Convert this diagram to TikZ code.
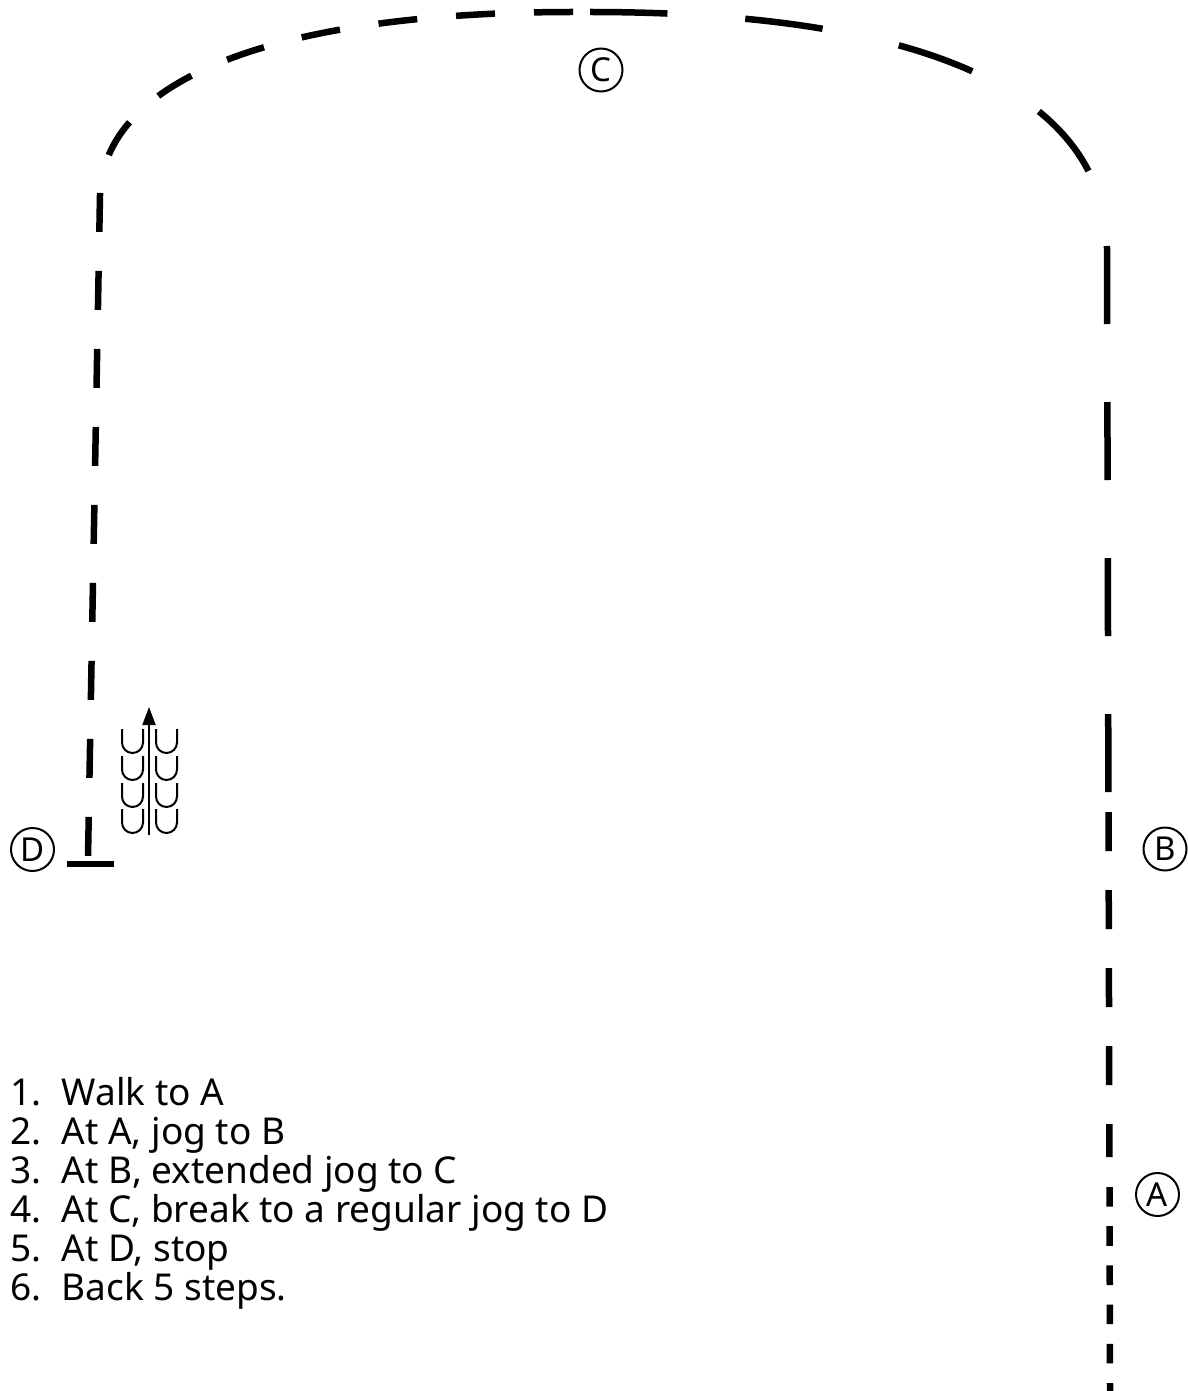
\documentclass[tikz,border=0pt]{standalone}
\usepackage{fontspec}
\setmainfont{Noto Sans}
\usetikzlibrary{arrows.meta}
\begin{document}
\begin{tikzpicture}[x=1pt,y=-1pt,
  track/.style={line width=6.5pt},
  walkgait/.style={track,dash pattern=on 19.6pt off 19.6pt},
  joggait/.style={track,dash pattern=on 39pt off 39pt},
  extgait/.style={track,dash pattern=on 78pt off 78pt},
  marker/.style={circle,draw,line width=2pt,minimum size=43pt,inner sep=0pt,font=\fontsize{33}{33}\selectfont},
  stepline/.style={anchor=base west,inner sep=0pt,font=\fontsize{37}{39}\selectfont},
  shoe/.style={line width=2pt},
]
\useasboundingbox (0,0) rectangle (1187,1391);

% track segments
\coordinate (start) at (1110,1391);
\coordinate (atA) at (1109.5,1187);
\coordinate (jogS) at (1109.4,1157);
\coordinate (jogE) at (1108.5,812);
\coordinate (atB) at (1108.4,792);
\coordinate (cornerR) at (1107,250);
\coordinate (atC) at (590,12);
\coordinate (jogC) at (573,12);
\coordinate (cornerL) at (100,195);
\coordinate (atD) at (88,858);
\coordinate (barL) at (67,864);
\coordinate (barR) at (114,864);

\draw[walkgait] (atA) -- (start);
\draw[joggait] (jogE) -- (jogS);
\draw[extgait] (atB) -- (cornerR) .. controls (1107,110) and (960,12) .. (atC);
\draw[joggait] (jogC) .. controls (273,12) and (104,80) .. (cornerL) -- (atD);
\draw[track] (barL) -- (barR);

% markers
\node[marker] (A) at (1157.5,1194.5) {A};
\node[marker] (B) at (1165,849) {B};
\node[marker] (C) at (601,70) {C};
\node[marker] (D) at (32.5,849.5) {D};

% hoof prints
\foreach \cx in {132.5,166.5}{
  \foreach \yt in {729,756,783,809}{
    \draw[shoe] (\cx-10.5,\yt) -- (\cx-10.5,\yt+13.5) arc[start angle=180,end angle=0,radius=10.5] -- (\cx+10.5,\yt);
  }
}
\coordinate (arrS) at (149,835);
\coordinate (arrE) at (149,707);
\draw[line width=2pt,-{Triangle[width=13pt,length=18pt]}] (arrS) -- (arrE);

% instructions
\node[stepline] (s1) at (10,1105) {\makebox[51.5pt][l]{1.}Walk to A};
\node[stepline] (s2) at (10,1144) {\makebox[51.5pt][l]{2.}At A, jog to B};
\node[stepline] (s3) at (10,1183) {\makebox[51.5pt][l]{3.}At B, extended jog to C};
\node[stepline] (s4) at (10,1222) {\makebox[51.5pt][l]{4.}At C, break to a regular jog to D};
\node[stepline] (s5) at (10,1261) {\makebox[51.5pt][l]{5.}At D, stop};
\node[stepline] (s6) at (10,1300) {\makebox[51.5pt][l]{6.}Back 5 steps.};
\end{tikzpicture}
\end{document}
